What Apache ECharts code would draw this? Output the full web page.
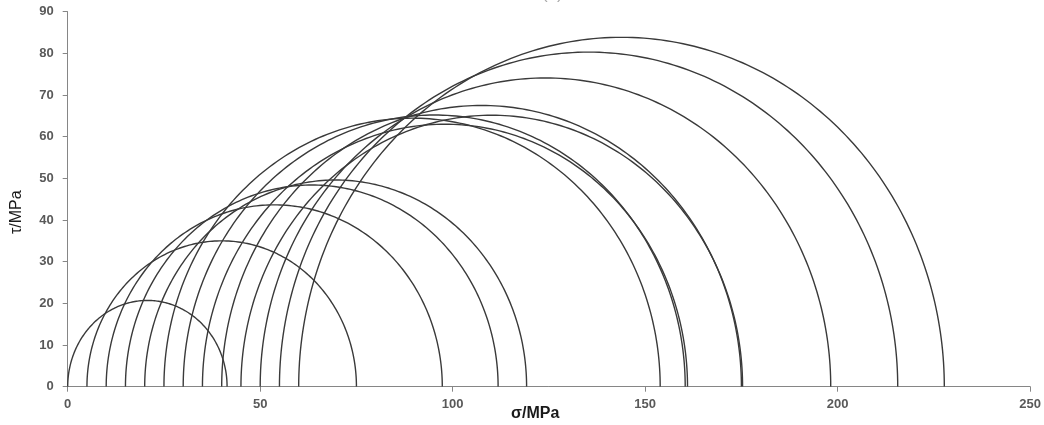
<!DOCTYPE html>
<html>
<head>
<meta charset="utf-8">
<script src="https://cdn.jsdelivr.net/npm/echarts@6/dist/echarts.min.js"></script>
<style>html,body{margin:0;padding:0;background:#fff}#c{width:1044px;height:425px}</style>
</head>
<body>
<div id="c"></div>
<script>
// Mohr circles: minor (sigma3) and major (sigma1) principal stresses, MPa
const sigma3 = [0, 5, 10, 15, 20, 25, 30, 35, 40, 45, 50, 55, 60];
const sigma1 = [41.4, 75, 97.3, 111.8, 119.2, 153.9, 160.4, 161.0, 175.0, 175.3, 198.2, 215.6, 227.7];
const xTicks = [0, 50, 100, 150, 200, 250];
const yTicks = [0, 10, 20, 30, 40, 50, 60, 70, 80, 90];

const circles = sigma3.map((s3, i) => [s3, sigma1[i]]);

const chart = echarts.init(document.getElementById('c'), null, {renderer: 'canvas'});
const labelStyle = {color: '#595959', fontSize: 13, fontWeight: 'bold', fontFamily: 'Liberation Sans, Arial, sans-serif'};
chart.setOption({
  animation: false,
  backgroundColor: '#fff',
  grid: {left: 67.7, right: 12, top: 11.7, bottom: 38.3, containLabel: false},
  xAxis: {
    type: 'value', min: xTicks[0], max: xTicks[xTicks.length - 1], interval: 50,
    axisLine: {show: true, lineStyle: {color: '#868686', width: 1}},
    axisTick: {show: true, length: 5, lineStyle: {color: '#868686'}},
    axisLabel: Object.assign({margin: 11}, labelStyle),
    splitLine: {show: false}
  },
  yAxis: {
    type: 'value', min: yTicks[0], max: yTicks[yTicks.length - 1], interval: 10,
    axisLine: {show: true, lineStyle: {color: '#868686', width: 1}},
    axisTick: {show: true, length: 5, lineStyle: {color: '#868686'}},
    axisLabel: Object.assign({margin: 14}, labelStyle),
    splitLine: {show: false}
  },
  graphic: [
    {type: 'text', left: 511, top: 406, style: {text: 'σ/MPa', font: 'bold 16px "Liberation Sans", Arial, sans-serif', fill: '#1a1a1a'}},
    {type: 'text', x: 9, y: 234, rotation: Math.PI / 2, style: {text: 'τ/MPa', font: '16px "Liberation Sans", Arial, sans-serif', fill: '#1a1a1a', textVerticalAlign: 'top'}},
    {type: 'text', x: 542, y: -14, style: {text: '(a)', font: '17px "Liberation Sans", Arial, sans-serif', fill: '#aaa'}}
  ],
  series: [{
    type: 'custom',
    coordinateSystem: 'cartesian2d',
    clip: true,
    data: circles,
    encode: {x: [0, 1]},
    renderItem: function (params, api) {
      const s3 = api.value(0), s1 = api.value(1);
      const c = (s1 + s3) / 2, r = (s1 - s3) / 2;
      const pts = [];
      const n = 180;
      for (let k = 0; k <= n; k++) {
        const th = Math.PI * k / n;
        pts.push(api.coord([c - r * Math.cos(th), r * Math.sin(th)]));
      }
      return {type: 'polyline', shape: {points: pts}, style: {stroke: '#3a3a3a', lineWidth: 1.4, fill: null}};
    }
  }]
});
</script>
</body>
</html>
